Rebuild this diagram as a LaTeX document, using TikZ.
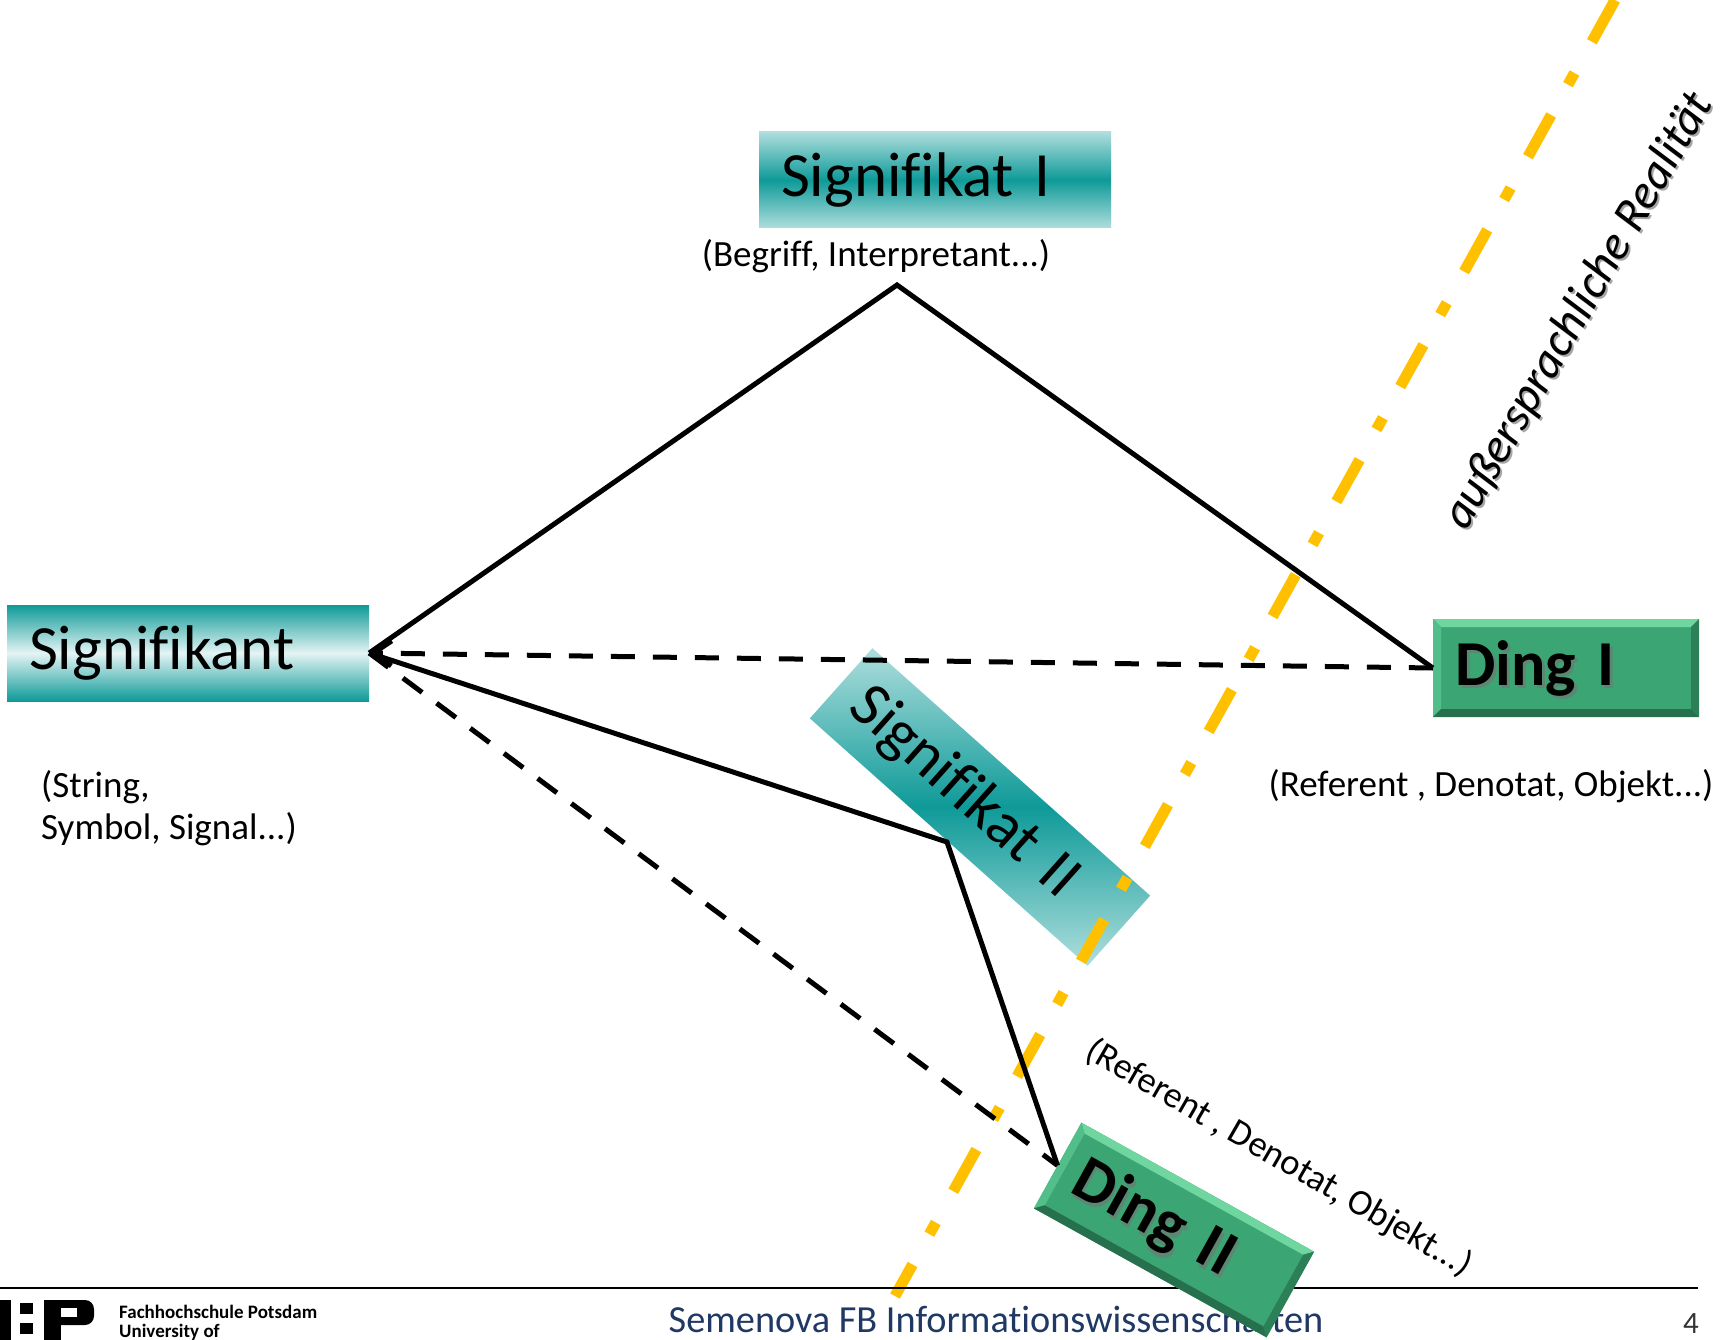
\documentclass[tikz,border=0pt]{standalone}
\usepackage{fontspec}
\setmainfont{Carlito}[Ligatures=CommonOff]
\usetikzlibrary{arrows.meta,calc}
\definecolor{tealdark}{RGB}{14,154,152}
\definecolor{teallight}{RGB}{174,222,221}
\definecolor{tealpale}{RGB}{228,244,244}
\definecolor{dinggreen}{RGB}{59,166,116}
\definecolor{dinglight}{RGB}{112,214,160}
\definecolor{dingleft}{RGB}{82,190,138}
\definecolor{dingdark}{RGB}{38,112,78}
\definecolor{dingright}{RGB}{44,128,88}
\definecolor{ambery}{RGB}{255,192,0}
\definecolor{footblue}{RGB}{31,56,100}
\newcommand{\mydingbox}[4]{%
  \begin{scope}[shift={#1}, rotate=#2]
    \fill[dinggreen] (-133,-49) rectangle (133,49);
    \fill[dinglight] (-133,-49) -- (133,-49) -- (125,-41) -- (-125,-41) -- cycle;
    \fill[dingleft] (-133,-49) -- (-125,-41) -- (-125,41) -- (-133,49) -- cycle;
    \fill[dingdark] (-133,49) -- (133,49) -- (125,41) -- (-125,41) -- cycle;
    \fill[dingright] (133,-49) -- (133,49) -- (125,41) -- (125,-41) -- cycle;
    \node[dingtext, transform shape, text=black!55, opacity=.6] at (3,3) {#4};
    \node[dingtext, transform shape] (#3) at (0,0) {#4};
  \end{scope}}
\begin{document}
\begin{tikzpicture}[x=1pt,y=-1pt,
  conn/.style={line width=5pt, draw=black},
  dconn/.style={conn, dash pattern=on 24pt off 18pt},
  sigstyle/.style={rectangle, inner xsep=22pt, inner ysep=0pt, align=left,
    font=\fontsize{63}{70}\selectfont},
  litebox/.style={sigstyle, top color=teallight, bottom color=teallight, middle color=tealdark},
  darkbox/.style={sigstyle, top color=tealdark, bottom color=tealdark, middle color=tealpale},
  dingtext/.style={rectangle, inner xsep=22pt, inner ysep=0pt, minimum width=266pt,
    minimum height=98pt, text width=222pt, align=left,
    font=\bfseries\fontsize{64}{70}\selectfont},
  small/.style={font=\fontsize{37}{42}\selectfont, inner sep=0pt},
  realtext/.style={font=\itshape\fontsize{48}{52}\selectfont, inner sep=0pt, rotate=60},
  realline/.style={line width=11pt, draw=ambery,
    dash pattern=on 47.7pt off 35.8pt on 13.3pt off 34.7pt}
]
\useasboundingbox (0,0) rectangle (1729,1340);
\fill[white] (0,0) rectangle (1729,1340);

% Signifikat II (behind the yellow line)
\node[litebox, rotate=-41.7, minimum width=372pt, minimum height=94pt, text width=328pt]
  (sig2) at (980,807) {Signifikat II};

% border of reality
\coordinate (ytop) at (1615,0);
\coordinate (ybot) at (895,1296);
\draw[realline] (ytop) -- (ybot);

% main boxes
\node[darkbox, minimum width=362pt, minimum height=96pt, text width=318pt]
  (sigk) at (188,653) {Signifikant};
\node[litebox, minimum width=352pt, minimum height=96pt, text width=308pt]
  (sig1) at (935,180) {Signifikat I};
\mydingbox{(1566,668)}{0}{ding1}{Ding I}

% labels
\node[small] (begr) at (876,256) {(Begriff, Interpretant...)};
\node[small, align=left, anchor=north west] (sigsub) at (41,770) {(String,\\Symbol, Signal...)};
\node[small] (ref1) at (1491,786) {(Referent , Denotat, Objekt...)};
\node[small, font=\fontsize{36.5}{40}\selectfont, rotate=-30] (ref2) at (1279,1158)
  {(Referent , Denotat, Objekt...)};
\node[realtext, text=black!35] at (1581,313) {außersprachliche Realität};
\node[realtext] (real) at (1579,311) {außersprachliche Realität};

% footer
\draw[line width=2.5pt] (0,1288) -- (1698,1288);
\node[anchor=base, inner sep=0pt, text=footblue, font=\fontsize{38.3}{40}\selectfont]
  (foot) at (996,1332) {Semenova FB Informationswissenschaften};
\node[anchor=base, inner sep=0pt, text=black!80, font=\fontsize{31}{34}\selectfont]
  (pnum) at (1691,1333) {4};
\fill (0,1300) rectangle (11,1340);
\fill (20,1303) rectangle (33,1314);
\fill (20,1323) rectangle (33,1334);
\fill (44,1300) rectangle (61,1340);
\fill[rounded corners=9pt] (50,1300) rectangle (94,1325);
\fill[white] (61,1308) rectangle (77,1317);
\node[anchor=base west, inner sep=0pt, font=\bfseries\fontsize{19}{20}\selectfont]
  (fhp1) at (119,1318) {Fachhochschule Potsdam};
\node[anchor=base west, inner sep=0pt, font=\bfseries\fontsize{19}{20}\selectfont]
  (fhp2) at (119,1337) {University of};

% Ding II on top of the footer
\mydingbox{(1174,1230)}{-29}{ding2}{Ding II}

% connectors
\coordinate (apex) at (897,285);
\coordinate (vtx) at (947,842);
\draw[conn] (sigk.east) -- (apex) -- (ding1.west);
\draw[conn] (sigk.east) -- (vtx) -- (ding2.west);
\draw[dconn, -{Straight Barb[length=18pt,width=25pt]}] (ding1.west) -- (sigk.east);
\draw[dconn] (sigk.east) -- (ding2.west);
\end{tikzpicture}
\end{document}
